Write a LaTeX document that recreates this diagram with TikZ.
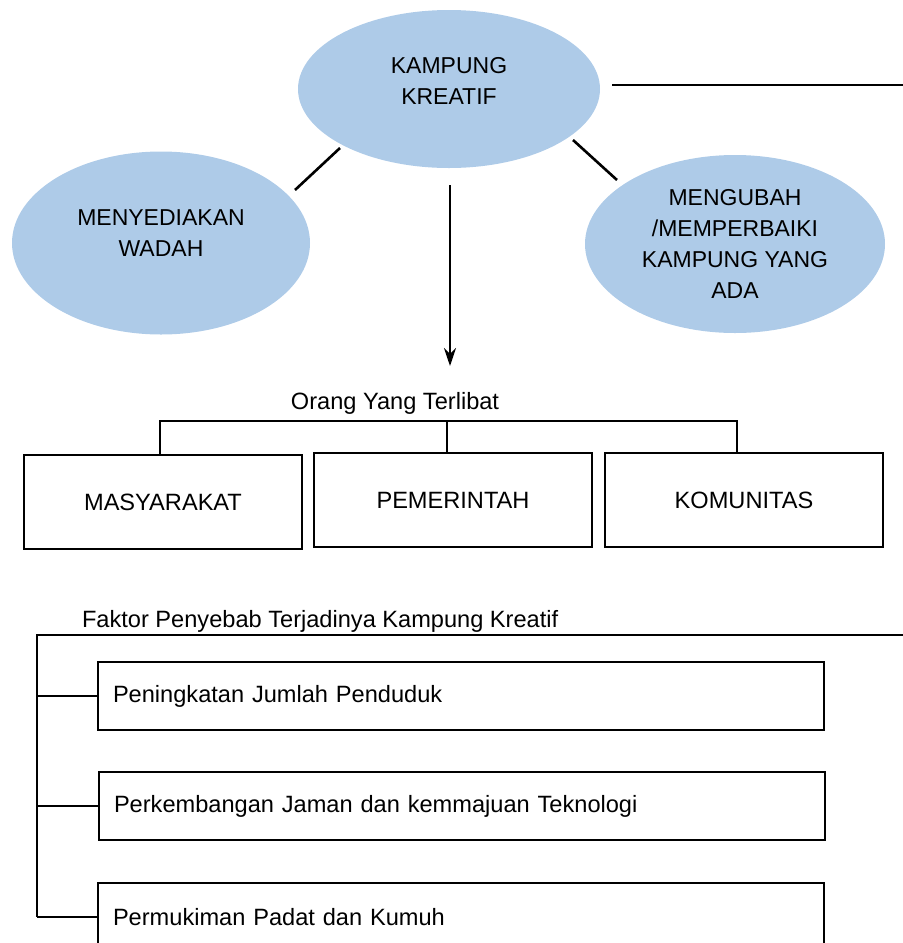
\documentclass[tikz,border=0pt]{standalone}
\usepackage{fontspec}
\setmainfont{Liberation Sans}
\usepackage{tikz}
\usetikzlibrary{shapes.geometric,arrows.meta}
\definecolor{bubble}{RGB}{174,203,232}
\tikzstyle{oval} = [ellipse, fill=bubble, draw=none, inner sep=0pt,
    align=center, font=\fontsize{11.5}{15.5}\selectfont]
\tikzstyle{party} = [draw=black, line width=0.7pt, rectangle,
    minimum width=139pt, minimum height=47pt, font=\fontsize{11.8}{13}\selectfont]
\tikzstyle{factor} = [draw=black, line width=0.7pt, rectangle, text width=348pt,
    inner xsep=7.5pt, align=left, minimum height=34pt, font=\fontsize{11.8}{13}\selectfont]
\tikzstyle{link} = [line width=1.3pt]

\begin{document}
\begin{tikzpicture}[x=0.5pt, y=-0.5pt]
\useasboundingbox (0,0) rectangle (903,943);
\clip (0,0) rectangle (903,943);
% ovals
\node [oval, minimum width=151pt, minimum height=79pt] (kk) at (449,89)
    {KAMPUNG\\KREATIF\\[-7pt]};
\node [oval, minimum width=149pt, minimum height=91.5pt] (mw) at (161,243)
    {MENYEDIAKAN\\WADAH\\[-6pt]};
\node [oval, minimum width=150pt, minimum height=89pt] (mg) at (735,244)
    {MENGUBAH\\/MEMPERBAIKI\\KAMPUNG YANG\\ADA};
\coordinate (kkl) at (340,148);
\coordinate (mwr) at (295,190);
\coordinate (kkr) at (573,140);
\coordinate (mgl) at (617,180);
\coordinate (kke) at (612,85);
\coordinate (kkb) at (450,185);
\coordinate (arr) at (450,366);
\draw [link] (kkl) -- (mwr);
\draw [link] (kkr) -- (mgl);
\draw [link] (kke) -- (903,85);
\draw [link, -{Stealth[length=9pt, width=6pt]}] (kkb) -- (arr);
% orang yang terlibat
\node [font=\fontsize{11.8}{13}\selectfont] (oyt) at (395,403) {Orang Yang Terlibat};
\node [party] (mas) at (163,502) {MASYARAKAT};
\node [party] (pem) at (453,500) {PEMERINTAH};
\node [party] (kom) at (744,500) {KOMUNITAS};
\coordinate (bar) at (450,421);
\draw [link] ([xshift=-1.5pt]mas.north) -- ([xshift=-1.5pt]mas.north |- bar)
    -- ([xshift=-3.5pt]kom.north |- bar) -- ([xshift=-3.5pt]kom.north);
\draw [link] ([xshift=-3pt]pem.north) -- ([xshift=-3pt]pem.north |- bar);
% faktor penyebab
\node [anchor=west, font=\fontsize{11.8}{13}\selectfont] (fp) at (75,621)
    {Faktor Penyebab Terjadinya Kampung Kreatif};
\node [factor] (f1) at (461,696) {Peningkatan Jumlah Penduduk};
\node [factor] (f2) at (462,806) {Perkembangan Jaman dan kemmajuan Teknologi};
\node [factor] (f3) at (461,917) {Permukiman Padat dan Kumuh};
\coordinate (spine) at (37,635);
\draw [link] (903,635) -- (spine) -- (spine |- f3.west);
\foreach \f in {f1,f2,f3}
    \draw [link] (spine |- \f.west) -- (\f.west);
\end{tikzpicture}
\end{document}
